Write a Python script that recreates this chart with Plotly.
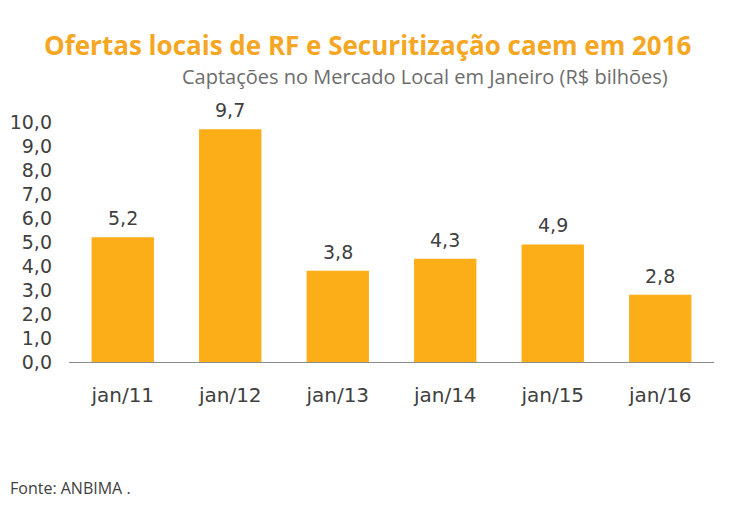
import plotly.graph_objects as go

categories = ["jan/11", "jan/12", "jan/13", "jan/14", "jan/15", "jan/16"]
values = [5.2, 9.7, 3.8, 4.3, 4.9, 2.8]
labels = ["5,2", "9,7", "3,8", "4,3", "4,9", "2,8"]
tick_vals = [0, 1, 2, 3, 4, 5, 6, 7, 8, 9, 10]
tick_text = ["0,0", "1,0", "2,0", "3,0", "4,0", "5,0", "6,0", "7,0", "8,0", "9,0", "10,0"]

# page body has an 8px default margin in the browser; compensate
OFF = 8
W, H = 732 - OFF, 512 - OFF
L, R, T, B = 69 - OFF, 18, 122 - OFF, 150
PW, PH = W - L - R, H - T - B


def paper(xp, yp):
    return (xp - OFF - L) / PW, (H - B - (yp - OFF)) / PH


fig = go.Figure(go.Bar(
    x=categories, y=values,
    marker=dict(color="#FBAE17", line=dict(width=0)),
    width=0.58,
))

anns = []
for c, v, t in zip(categories, values, labels):
    anns.append(dict(x=c, y=v, text=t, showarrow=False, yanchor="middle",
                     yshift=19, font=dict(family="DejaVu Sans", size=19, color="#404040")))

tx, ty = paper(368, 45)
anns.append(dict(text="<b>Ofertas locais de RF e Securitização caem em 2016</b>",
                 x=tx, y=ty, xref="paper", yref="paper", showarrow=False,
                 xanchor="center", yanchor="middle",
                 font=dict(family="Open Sans", size=26, color="#F5A623")))
sx, sy = paper(425, 76)
anns.append(dict(text="Captações no Mercado Local em Janeiro (R$ bilhões)",
                 x=sx, y=sy, xref="paper", yref="paper", showarrow=False,
                 xanchor="center", yanchor="middle",
                 font=dict(family="Open Sans", size=20, color="#6d6d6d")))
fx, fy = paper(8, 488)
anns.append(dict(text="Fonte: ANBIMA .",
                 x=fx, y=fy, xref="paper", yref="paper", showarrow=False,
                 xanchor="left", yanchor="middle",
                 font=dict(family="Open Sans", size=16, color="#404040")))

fig.update_layout(
    width=W, height=H,
    margin=dict(l=L, r=R, t=T, b=B, pad=0),
    paper_bgcolor="white", plot_bgcolor="white",
    showlegend=False,
    font=dict(family="DejaVu Sans", color="#404040"),
    xaxis=dict(showline=True, linecolor="#8c8c8c", linewidth=1, ticks="",
               tickfont=dict(size=20, color="#404040"), showgrid=False,
               automargin=False, ticklabelstandoff=15),
    yaxis=dict(range=[0, 10], tickvals=tick_vals, ticktext=tick_text,
               showgrid=False, zeroline=False, showline=False, ticks="",
               tickfont=dict(size=19, color="#404040"),
               automargin=False, ticklabelstandoff=16),
    annotations=anns,
)

fig.write_html("out.html")
